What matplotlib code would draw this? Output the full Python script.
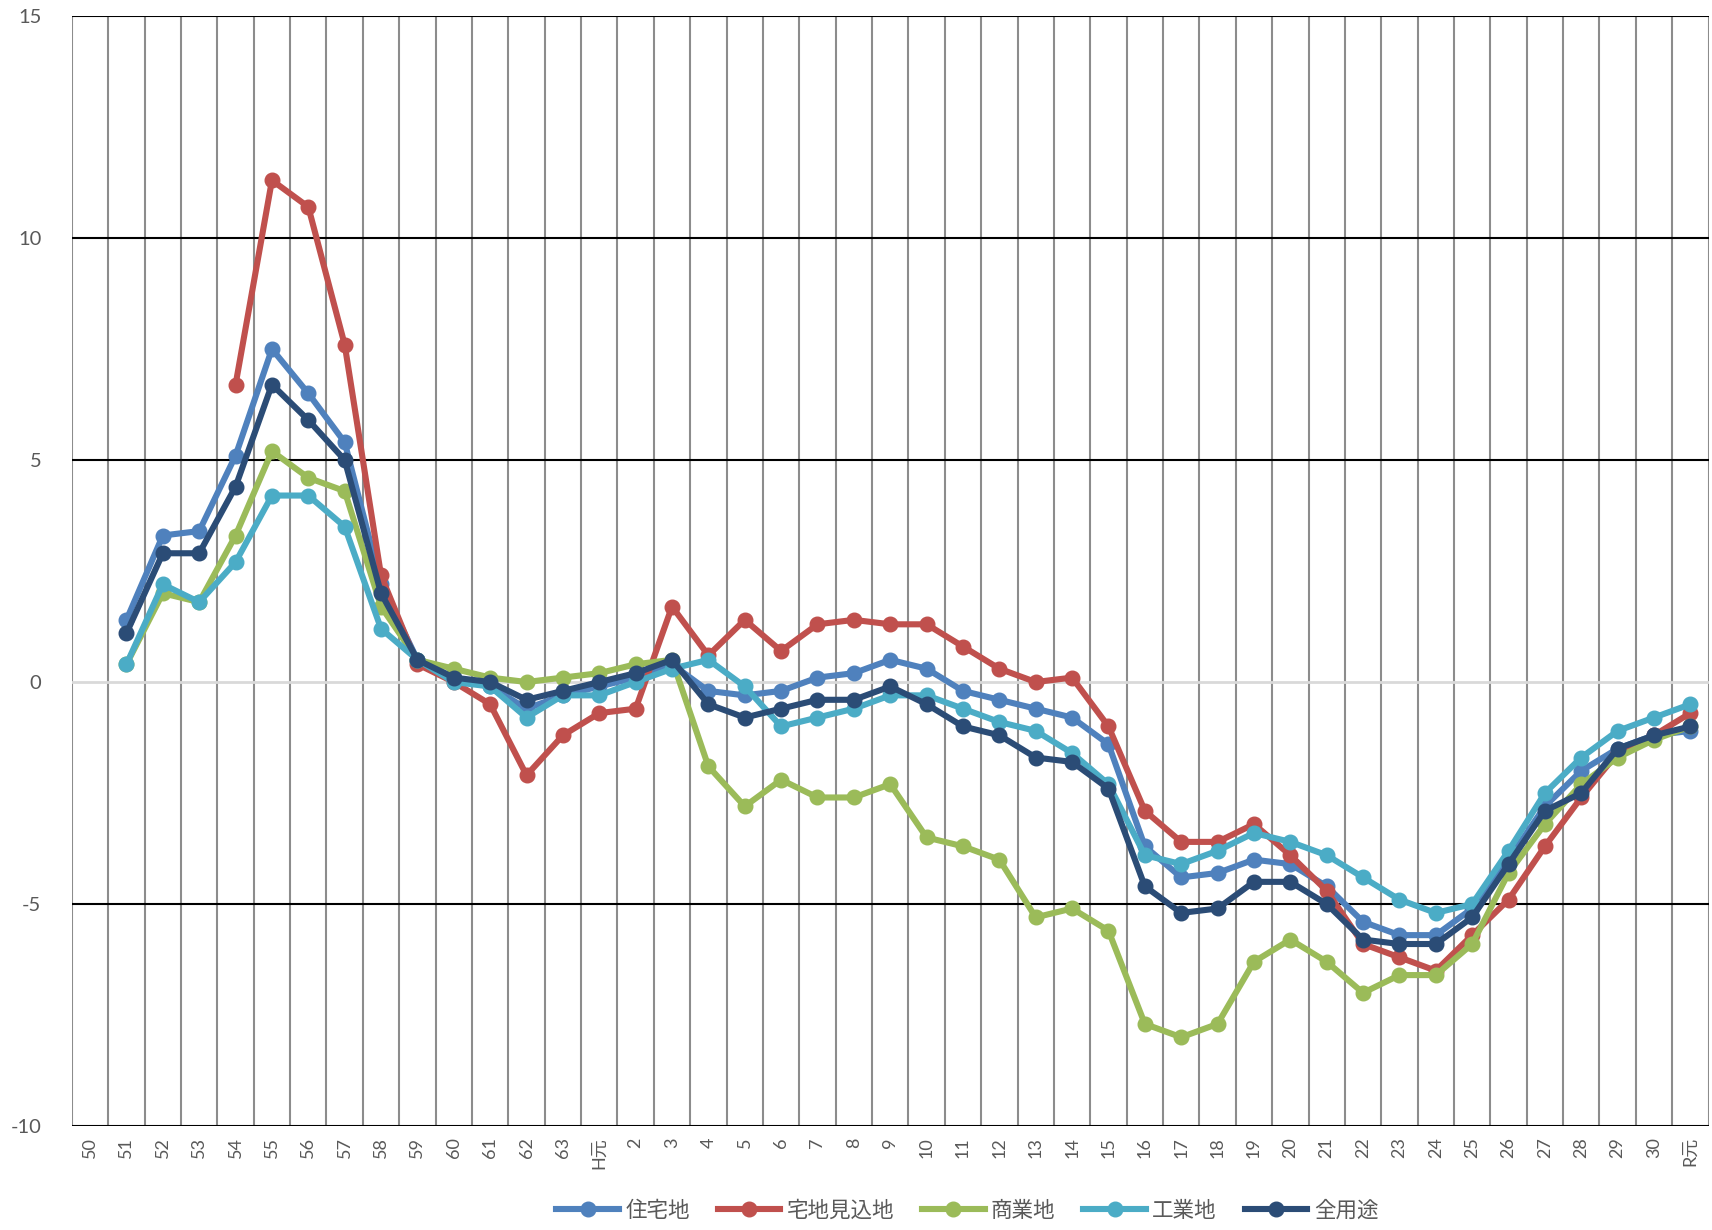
import matplotlib.pyplot as plt
import numpy as np

plt.rcParams['font.family'] = ['Lato', 'Noto Sans CJK JP', 'DejaVu Sans']
plt.rcParams['axes.unicode_minus'] = False

nan = np.nan

# x categories: Showa 50-63, Heisei 元-30, Reiwa 元
labels = [str(y) for y in range(50, 64)] + ['H元'] + [str(y) for y in range(2, 31)] + ['R元']

residential = [nan, 1.4, 3.3, 3.4, 5.1, 7.5, 6.5, 5.4, 2.2, 0.5, 0.1, -0.1, -0.6, -0.3,
               -0.1, 0.1, 0.4, -0.2, -0.3, -0.2, 0.1, 0.2, 0.5, 0.3, -0.2, -0.4, -0.6,
               -0.8, -1.4, -3.7, -4.4, -4.3, -4.0, -4.1, -4.6, -5.4, -5.7, -5.7, -5.1,
               -4.0, -2.8, -2.0, -1.5, -1.2, -1.1]
prospective = [nan, nan, nan, nan, 6.7, 11.3, 10.7, 7.6, 2.4, 0.4, 0.0, -0.5, -2.1, -1.2,
               -0.7, -0.6, 1.7, 0.6, 1.4, 0.7, 1.3, 1.4, 1.3, 1.3, 0.8, 0.3, 0.0,
               0.1, -1.0, -2.9, -3.6, -3.6, -3.2, -3.9, -4.7, -5.9, -6.2, -6.5, -5.7,
               -4.9, -3.7, -2.6, -1.6, -1.2, -0.7]
commercial = [nan, 0.4, 2.0, 1.8, 3.3, 5.2, 4.6, 4.3, 1.7, 0.5, 0.3, 0.1, 0.0, 0.1,
              0.2, 0.4, 0.5, -1.9, -2.8, -2.2, -2.6, -2.6, -2.3, -3.5, -3.7, -4.0, -5.3,
              -5.1, -5.6, -7.7, -8.0, -7.7, -6.3, -5.8, -6.3, -7.0, -6.6, -6.6, -5.9,
              -4.3, -3.2, -2.3, -1.7, -1.3, -1.0]
industrial = [nan, 0.4, 2.2, 1.8, 2.7, 4.2, 4.2, 3.5, 1.2, 0.5, 0.0, -0.1, -0.8, -0.3,
              -0.3, 0.0, 0.3, 0.5, -0.1, -1.0, -0.8, -0.6, -0.3, -0.3, -0.6, -0.9, -1.1,
              -1.6, -2.3, -3.9, -4.1, -3.8, -3.4, -3.6, -3.9, -4.4, -4.9, -5.2, -5.0,
              -3.8, -2.5, -1.7, -1.1, -0.8, -0.5]
all_use = [nan, 1.1, 2.9, 2.9, 4.4, 6.7, 5.9, 5.0, 2.0, 0.5, 0.1, 0.0, -0.4, -0.2,
           0.0, 0.2, 0.5, -0.5, -0.8, -0.6, -0.4, -0.4, -0.1, -0.5, -1.0, -1.2, -1.7,
           -1.8, -2.4, -4.6, -5.2, -5.1, -4.5, -4.5, -5.0, -5.8, -5.9, -5.9, -5.3,
           -4.1, -2.9, -2.5, -1.5, -1.2, -1.0]

series = [
    ('住宅地', residential, '#4F81BD'),
    ('宅地見込地', prospective, '#C0504D'),
    ('商業地', commercial, '#9BBB59'),
    ('工業地', industrial, '#4BACC6'),
    ('全用途', all_use, '#2B4C76'),
]

fig = plt.figure(figsize=(17.12, 12.3), dpi=100)
ax = fig.add_axes([0.042, 0.0845, 0.956, 0.9025])

x = np.arange(len(labels))

# grid: vertical lines between categories, black horizontal lines
for b in np.arange(-0.5, len(labels) + 0.5, 1.0):
    ax.axvline(b, color='#8C8C8C', linewidth=1.5, zorder=1)
for yv in [-10, -5, 5, 10, 15]:
    ax.axhline(yv, color='black', linewidth=1.5, zorder=1)
ax.axhline(0, color='#D9D9D9', linewidth=2.0, zorder=1)

for name, vals, col in series:
    ax.plot(x, vals, color=col, linewidth=4.4, marker='o', markersize=10.5,
            label=name, zorder=3)

ax.set_xlim(-0.5, len(labels) - 0.5)
ax.set_ylim(-10, 15)
ax.set_yticks([-10, -5, 0, 5, 10, 15])
ax.set_xticks(x)
ax.set_xticklabels(labels, rotation=90)
ax.tick_params(axis='x', length=0, pad=8, labelsize=13, colors='#595959')
ax.tick_params(axis='y', length=0, pad=22, labelsize=14.5, colors='#595959')
for s in ax.spines.values():
    s.set_visible(False)

leg = fig.legend(loc='center', bbox_to_anchor=(0.565, 0.016), ncol=5, frameon=False,
                 fontsize=15.5, handlelength=2.9, columnspacing=1.3, handletextpad=0.3)
for t in leg.get_texts():
    t.set_color('#595959')

fig.savefig('out.png', dpi=100)
